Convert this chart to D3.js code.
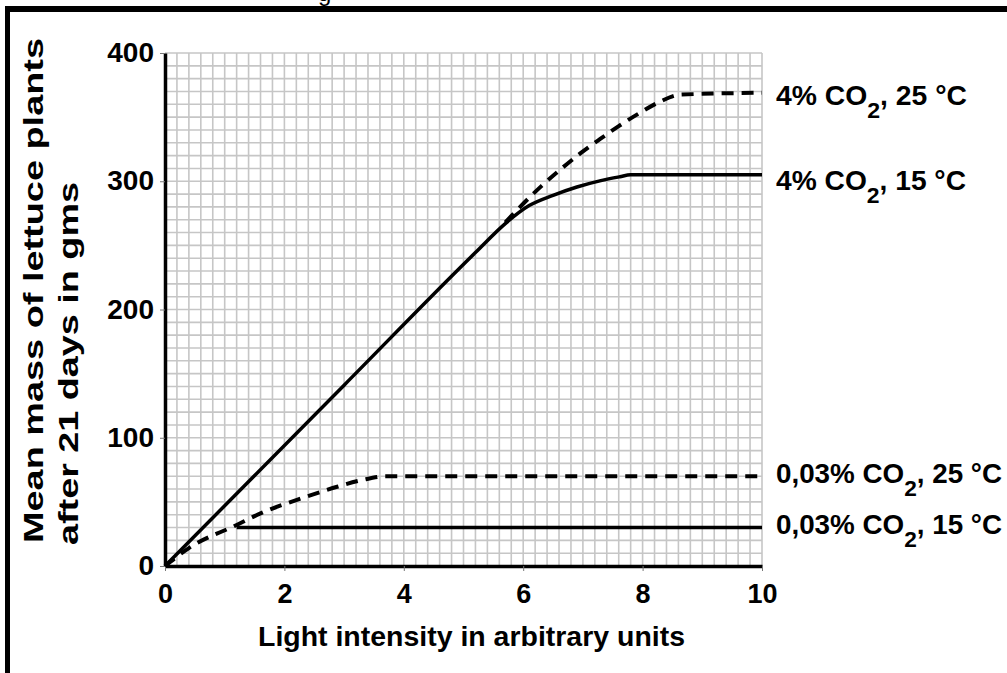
<!DOCTYPE html>
<html>
<head>
<meta charset="utf-8">
<script src="https://cdnjs.cloudflare.com/ajax/libs/d3/7.8.5/d3.min.js"></script>
<style>
  body { margin: 0; background: #fff; }
  svg { display: block; font-family: "Liberation Sans", Arial, sans-serif; }
</style>
</head>
<body>
<svg id="main"></svg>
<script>
// tick labels
var xTicks = [0, 2, 4, 6, 8, 10];
var yTicks = [0, 100, 200, 300, 400];

// 4% CO2, 25 °C (dashed, leaves the shared straight part near 6)
var high25x = [5.7, 6.3, 6.62, 6.95, 7.29, 7.6, 7.96, 8.29, 8.63, 10];
var high25y = [268, 296, 309, 321.5, 333, 343, 353.5, 362, 367.5, 369];

// 4% CO2, 15 °C (solid)
var high15x = [0, 3, 5.2, 5.7, 6.1, 6.5, 6.9, 7.3, 7.62, 7.8, 10];
var high15y = [0, 141, 244.4, 267, 281, 289, 295.5, 300.5, 303.5, 305, 305];

// 0,03% CO2, 25 °C (dashed)
var low25x = [0, 0.4, 1.2, 1.6, 2.3, 2.9, 3.3, 3.7, 10];
var low25y = [0, 14, 32, 41, 53, 62, 67, 70, 70];

// 0,03% CO2, 15 °C (solid)
var low15x = [1.2, 10];
var low15y = [30, 30];

var seriesNames = ["4% CO2, 25 °C", "4% CO2, 15 °C", "0,03% CO2, 25 °C", "0,03% CO2, 15 °C"];

var w = 1007;
var h = 673;
var plotLeft = 165, plotRight = 762, plotTop = 53, plotBottom = 566;

var svg = d3.select("#main")
  .attr("width", w)
  .attr("height", h);

var x = d3.scaleLinear().domain([0, 10]).range([plotLeft, plotRight]);
var y = d3.scaleLinear().domain([0, 400]).range([plotBottom, plotTop]);

// border of the cut-out figure
svg.append("text")
  .attr("x", 318).attr("y", 0.5)
  .attr("font-size", 24)
  .text("g");
svg.append("line")
  .attr("x1", 5).attr("x2", w).attr("y1", 9).attr("y2", 9)
  .attr("stroke", "#000").attr("stroke-width", 6);
svg.append("line")
  .attr("x1", 7.5).attr("x2", 7.5).attr("y1", 6).attr("y2", h)
  .attr("stroke", "#000").attr("stroke-width", 5);

// graph paper
var grid = svg.append("g").attr("stroke", "#c6c6c6").attr("stroke-width", 1.6);
grid.selectAll("line.v")
  .data(x.ticks(50))
  .enter().append("line")
  .attr("class", "v")
  .attr("x1", function(d) { return x(d); })
  .attr("x2", function(d) { return x(d); })
  .attr("y1", y(0)).attr("y2", y(400));
grid.selectAll("line.h")
  .data(y.ticks(40))
  .enter().append("line")
  .attr("class", "h")
  .attr("y1", function(d) { return y(d); })
  .attr("y2", function(d) { return y(d); })
  .attr("x1", x(0)).attr("x2", x(10));

// axes
var yAxis = d3.axisLeft(y).tickValues(yTicks).tickSize(5).tickSizeOuter(0).tickPadding(6);
var xAxis = d3.axisBottom(x).tickValues(xTicks).tickSize(5).tickSizeOuter(0).tickPadding(13);

var gy = svg.append("g")
  .attr("transform", "translate(" + plotLeft + ",0)")
  .call(yAxis);
var gx = svg.append("g")
  .attr("transform", "translate(0," + plotBottom + ")")
  .call(xAxis);

[gx, gy].forEach(function(g) {
  g.select(".domain").attr("stroke", "#000").attr("stroke-width", 3.5);
  g.selectAll(".tick line").attr("stroke", "#777").attr("stroke-width", 1);
  g.selectAll(".tick text")
    .attr("fill", "#000")
    .attr("font-family", "Liberation Sans, Arial, sans-serif")
    .attr("font-weight", "bold")
    .attr("font-size", 27);
});
gy.selectAll(".tick text")
  .attr("textLength", function(d) { return String(d).length * 15.6; })
  .attr("lengthAdjust", "spacingAndGlyphs");

// curves
var series = [
  { name: seriesNames[0], xs: high25x, ys: high25y, dashed: true },
  { name: seriesNames[1], xs: high15x, ys: high15y, dashed: false },
  { name: seriesNames[2], xs: low25x, ys: low25y, dashed: true },
  { name: seriesNames[3], xs: low15x, ys: low15y, dashed: false }
];

var line = d3.line()
  .x(function(d) { return x(d[0]); })
  .y(function(d) { return y(d[1]); })
  .curve(d3.curveMonotoneX);

svg.selectAll("path.curve")
  .data(series)
  .enter().append("path")
  .attr("class", "curve")
  .attr("fill", "none")
  .attr("stroke", "#000")
  .attr("stroke-width", function(d) { return d.dashed ? 4 : 3.5; })
  .attr("stroke-dasharray", function(d) { return d.dashed ? "12,8" : null; })
  .attr("d", function(d) { return line(d3.zip(d.xs, d.ys)); });

// curve labels at the right end
var labelDy = [12, 15, 7, 6];
var labelLen = [191, 190, 226, 226];

var labels = svg.selectAll("text.lab")
  .data(series)
  .enter().append("text")
  .attr("class", "lab")
  .attr("x", x(10) + 14)
  .attr("y", function(d, i) { return y(d.ys[d.ys.length - 1]) + labelDy[i]; })
  .attr("font-size", 27)
  .attr("font-weight", "bold")
  .attr("textLength", function(d, i) { return labelLen[i]; })
  .attr("lengthAdjust", "spacingAndGlyphs");

labels.each(function(d) {
  var parts = d.name.split("CO2");
  var t = d3.select(this);
  t.append("tspan").text(parts[0] + "CO");
  t.append("tspan").attr("dy", 13).attr("font-size", 22).text("2");
  t.append("tspan").attr("dy", -13).text(parts[1]);
});

// axis titles
svg.append("text")
  .attr("x", 258).attr("y", 646)
  .attr("font-size", 27)
  .attr("font-weight", "bold")
  .attr("textLength", 427)
  .attr("lengthAdjust", "spacingAndGlyphs")
  .text("Light intensity in arbitrary units");

svg.append("text")
  .attr("transform", "translate(43,543) rotate(-90)")
  .attr("font-size", 28)
  .attr("font-weight", "bold")
  .attr("textLength", 505)
  .attr("lengthAdjust", "spacingAndGlyphs")
  .text("Mean mass of lettuce plants");

svg.append("text")
  .attr("transform", "translate(78,545) rotate(-90)")
  .attr("font-size", 28)
  .attr("font-weight", "bold")
  .attr("textLength", 363)
  .attr("lengthAdjust", "spacingAndGlyphs")
  .text("after 21 days in gms");
</script>
</body>
</html>
